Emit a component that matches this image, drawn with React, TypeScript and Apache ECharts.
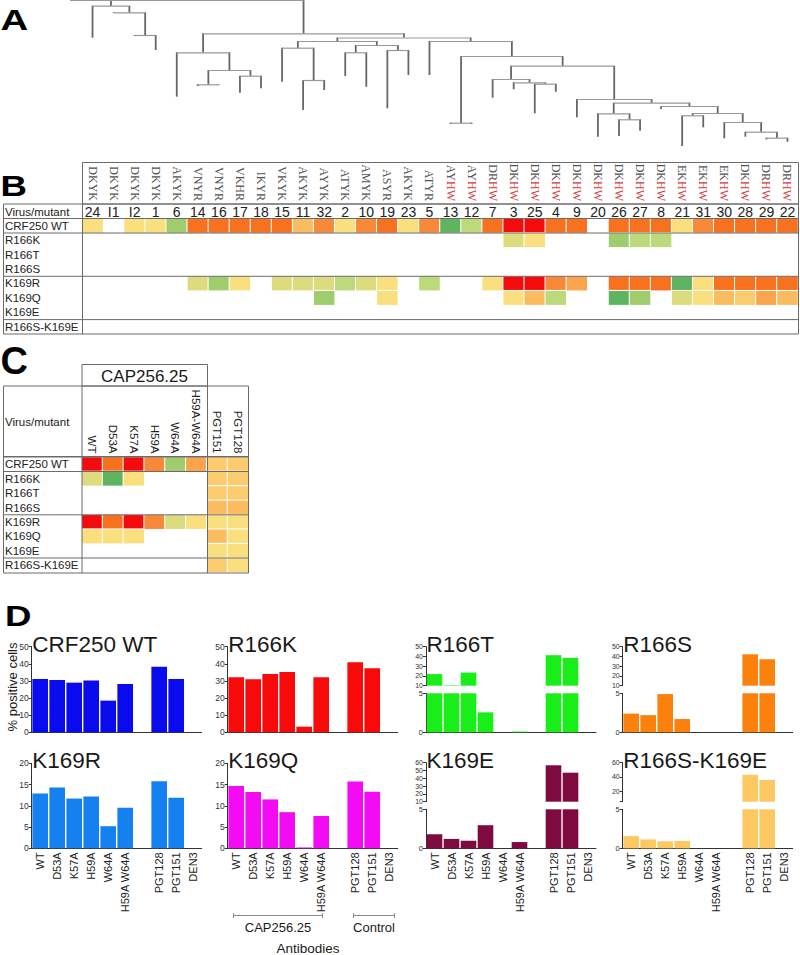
import React, { useEffect, useRef } from 'react';
import * as echarts from 'echarts';

// ---------------- DATA ----------------
const VIRUS_IDS = ['24','I1','I2','1','6','14','16','17','18','15','11','32','2','10','19','23','5','13','12','7','3','25','4','9','20','26','27','8','21','31','30','28','29','22'];
const SEQUENCES = ['DKYK','DKYK','DKYK','DKYK','AKYK','VNYR','VNYR','VKHR','IKYR','VKYK','AKYK','AYYK','ATYK','AMYK','ASYR','AKYK','ATYR','AYHW','AYHW','DRHW','DKHW','DKHW','DKHW','DKHW','DKHW','DKHW','DKHW','DKHW','EKHW','EKHW','EKHW','DKHW','DRHW','DRHW'];
const MUTANTS = ['CRF250 WT','R166K','R166T','R166S','K169R','K169Q','K169E','R166S-K169E'];

// neutralisation level (0 = none, 1 = weakest ... 11 = strongest)
const LEVEL_COLORS = ['#5fb462','#9fcd6e','#bcd97c','#dcdc7e','#f9df7d','#fccb6d','#fbbc5f','#faa44e','#f9893a','#f8711f','#f40c0c'];

const B_CRF250_WT = [5,0,5,5,2,10,10,10,10,10,7,9,5,9,10,5,9,1,3,10,11,11,10,10,0,10,10,10,5,9,10,10,10,10];
const B_R166K     = [0,0,0,0,0,0,0,0,0,0,0,0,0,0,0,0,0,0,0,0,4,5,0,0,0,2,3,3,0,0,0,0,0,0];
const B_R166T     = [0,0,0,0,0,0,0,0,0,0,0,0,0,0,0,0,0,0,0,0,0,0,0,0,0,0,0,0,0,0,0,0,0,0];
const B_R166S     = [0,0,0,0,0,0,0,0,0,0,0,0,0,0,0,0,0,0,0,0,0,0,0,0,0,0,0,0,0,0,0,0,0,0];
const B_K169R     = [0,0,0,0,0,4,2,5,0,4,4,4,3,4,5,0,3,0,0,5,11,11,9,8,0,10,10,10,1,5,10,10,10,10];
const B_K169Q     = [0,0,0,0,0,0,0,0,0,0,0,2,0,0,5,0,0,0,0,0,5,7,3,0,0,1,2,0,4,5,7,6,8,7];
const B_K169E     = [0,0,0,0,0,0,0,0,0,0,0,0,0,0,0,0,0,0,0,0,0,0,0,0,0,0,0,0,0,0,0,0,0,0];
const B_R166S_K169E = [0,0,0,0,0,0,0,0,0,0,0,0,0,0,0,0,0,0,0,0,0,0,0,0,0,0,0,0,0,0,0,0,0,0];
const B_ROWS = [B_CRF250_WT, B_R166K, B_R166T, B_R166S, B_K169R, B_K169Q, B_K169E, B_R166S_K169E];

const C_COLUMNS = ['WT','D53A','K57A','H59A','W64A','H59A-W64A','PGT151','PGT128'];
const C_CRF250_WT = [11,10,11,9,2,8,6,6];
const C_R166K     = [4,1,5,0,0,0,6,6];
const C_R166T     = [0,0,0,0,0,0,6,6];
const C_R166S     = [0,0,0,0,0,0,7,7];
const C_K169R     = [11,10,11,9,4,5,5,5];
const C_K169Q     = [5,5,5,0,0,0,7,5];
const C_K169E     = [0,0,0,0,0,0,5,5];
const C_R166S_K169E = [0,0,0,0,0,0,6,5];
const C_ROWS = [C_CRF250_WT, C_R166K, C_R166T, C_R166S, C_K169R, C_K169Q, C_K169E, C_R166S_K169E];

const ANTIBODIES = ['WT','D53A','K57A','H59A','W64A','H59A W64A','','PGT128','PGT151','DEN3'];
const D_CRF250_WT = [31.1, 30.5, 29.0, 30.2, 18.5, 28.2, null, 38.3, 31.1, 0];
const D_R166K     = [32.1, 31.0, 34.0, 35.2, 3.3, 32.1, null, 40.9, 37.4, 0];
const D_R166T     = [21.9, 10.5, 23.5, 2.56, 0, 0.1, null, 41.3, 38.5, 0];
const D_R166S     = [2.4, 2.2, 4.9, 1.7, 0, 0, null, 42.2, 37.1, 0];
const D_K169R     = [12.9, 14.3, 11.7, 12.2, 5.2, 9.55, null, 15.8, 11.9, 0];
const D_K169Q     = [14.65, 13.25, 11.5, 8.5, 0.2, 7.6, null, 15.7, 13.3, 0];
const D_K169E     = [1.8, 1.2, 0.97, 2.96, 0, 0.8, null, 56.7, 47.2, 0];
const D_R166S_K169E = [1.56, 1.14, 0.9, 0.93, 0, 0, null, 43.0, 35.6, 0];

// phylogenetic tree: node depth h, leaves named by virus id
type TNode = { id?: string; h: number; c?: TNode[]; x?: number };
const L = (id: string, h: number): TNode => ({ id, h });
const N = (h: number, ...c: TNode[]): TNode => ({ h, c });
const OUTGROUP_POS = -1.07;
const CLADE_A = N(5.7, L('24', 37.7), N(12.3, L('I1', 13), N(35, L('I2', 36), L('1', 50))));
const CLADE_E = N(52.3, L('6', 96.7), N(70, N(84.3, L('14', 86), L('16', 85)), N(75.7, L('17', 92.7), L('18', 88.3))));
const CLADE_J = N(41,
  N(47.7, L('15', 81.7), N(80, L('11', 110), L('32', 90))),
  N(45, N(52.3, L('2', 76), L('10', 86.7)), N(50, L('19', 108.3), L('23', 75))));
const CLADE_AB = N(113,
  N(115.3, L('21', 146), L('31', 127.3)),
  N(122, L('30', 138.3), N(131.7, L('28', 136.7), N(137.7, L('29', 139.5), L('22', 141.7)))));
const CLADE_X = N(102.7,
  N(113.3, L('20', 136.7), N(119.3, L('26', 136), L('27', 130.7))),
  N(106, L('8', 109), CLADE_AB));
const CLADE_S = N(65.7,
  N(79, L('7', 97.7), N(82.3, L('3', 89.3), N(83.7, L('25', 113.3), L('4', 91.7)))),
  N(99, L('9', 117.3), CLADE_X));
const CLADE_P = N(41, L('5', 75), N(56, N(122.7, L('13', 124), L('12', 124)), CLADE_S));
const TREE: TNode = N(0, { h: 0, x: OUTGROUP_POS }, CLADE_A, N(33.3, CLADE_E, N(37.5, CLADE_J, CLADE_P)));

// ---------------- LAYOUT ----------------
const FONT = '"Liberation Sans", Arial, Helvetica, sans-serif';
const SEQ_FONT = '"Liberation Serif", "Times New Roman", serif';
const COL_W = 716 / 34;
const TREE_X_MIN = -82 / COL_W - 0.5;
const TREE_X_MAX = TREE_X_MIN + 800 / COL_W;

function treeSegments(node: TNode, parentH: number | null, out: number[][]): number {
  let x: number;
  if (node.c) {
    const xs = node.c.map((ch) => treeSegments(ch, node.h, out));
    const lo = Math.min(...xs), hi = Math.max(...xs);
    out.push([lo, node.h, hi, node.h, 0]);
    x = (lo + hi) / 2;
  } else {
    x = node.x !== undefined ? node.x : VIRUS_IDS.indexOf(node.id as string);
  }
  if (parentH !== null && node.h > parentH) out.push([x, parentH, x, node.h, 1]);
  return x;
}

function buildOption() {
  const grid: any[] = [], xAxis: any[] = [], yAxis: any[] = [], series: any[] = [], g: any[] = [];
  const LINE = '#6b6b6b';
  const line = (x1: number, y1: number, x2: number, y2: number, w = 1, stroke = LINE) =>
    g.push({ type: 'line', z: 50, silent: true, shape: { x1, y1, x2, y2 }, style: { stroke, lineWidth: w } });
  const text = (t: string, x: number, y: number, size: number, opts: any = {}) =>
    g.push({ type: 'text', z: 50, silent: true, x, y, rotation: opts.rotation || 0, scaleX: opts.scaleX || 1,
      style: { text: t, fill: opts.fill || '#1a1a1a', fontSize: size, fontFamily: FONT, fontWeight: opts.bold ? 'bold' : 'normal',
        align: opts.align || 'left', verticalAlign: 'middle' } });

  // ---- A: tree ----
  const segs: number[][] = [];
  treeSegments(TREE, null, segs);
  grid.push({ left: 0, top: 0, width: 800, height: 146, outerBoundsMode: 'none' });
  xAxis.push({ gridIndex: 0, type: 'value', min: TREE_X_MIN, max: TREE_X_MAX, show: false });
  yAxis.push({ gridIndex: 0, type: 'value', min: 0, max: 146, inverse: true, show: false });
  series.push({
    type: 'custom', xAxisIndex: 0, yAxisIndex: 0, data: segs, encode: { x: [0, 2], y: [1, 3] }, silent: true,
    renderItem: (_p: any, api: any) => {
      const a = api.coord([api.value(0), api.value(1)]);
      const b = api.coord([api.value(2), api.value(3)]);
      const vert = api.value(4) === 1;
      return { type: 'line', shape: { x1: a[0], y1: a[1] + (vert ? 0 : 0.5), x2: b[0], y2: b[1] + (vert ? 0 : 0.5) },
        style: { stroke: vert ? '#666' : '#999', lineWidth: vert ? 1.8 : 1.2 } };
    },
  });

  // ---- B: heat map ----
  grid.push({ left: 82, top: 218.5, width: 716, height: 115.5, outerBoundsMode: 'none' });
  xAxis.push({ gridIndex: 1, type: 'category', data: VIRUS_IDS, position: 'top', axisLine: { show: false }, axisTick: { show: false },
    axisLabel: { interval: 0, fontSize: 14, color: '#222', margin: 0, fontFamily: FONT } });
  xAxis.push({ gridIndex: 1, type: 'category', data: SEQUENCES.map((_, i) => String(i)), position: 'top', offset: 17.5,
    axisLine: { show: false }, axisTick: { show: false },
    axisLabel: { interval: 0, rotate: 90, margin: 0,
      formatter: (v: string) => { const s = SEQUENCES[+v]; return s.endsWith('HW') ? `{g|${s.slice(0, 2)}}{r|HW}` : `{g|${s}}`; },
      rich: { g: { fontSize: 12, fontFamily: SEQ_FONT, color: '#555' },
              r: { fontSize: 12, fontFamily: SEQ_FONT, color: '#d43c3c' } } } });
  yAxis.push({ gridIndex: 1, type: 'category', data: MUTANTS, inverse: true, axisLine: { show: false }, axisTick: { show: false },
    axisLabel: { interval: 0, align: 'left', margin: 77, fontSize: 11.5, color: '#222', fontFamily: FONT } });
  const bData: number[][] = [];
  B_ROWS.forEach((row, r) => row.forEach((v, c) => { if (v > 0) bData.push([c, r, v]); }));
  series.push({ type: 'heatmap', xAxisIndex: 1, yAxisIndex: 1, data: bData, silent: true,
    itemStyle: { borderColor: '#fff', borderWidth: 1 } });

  // ---- C: heat map ----
  grid.push({ left: 81.7, top: 457, width: 166.6, height: 115.5, outerBoundsMode: 'none' });
  xAxis.push({ gridIndex: 2, type: 'category', data: C_COLUMNS, position: 'top', axisLine: { show: false }, axisTick: { show: false },
    axisLabel: { interval: 0, rotate: 90, margin: 3.5, fontSize: 11.5, color: '#222', fontFamily: FONT } });
  yAxis.push({ gridIndex: 2, type: 'category', data: MUTANTS, inverse: true, axisLine: { show: false }, axisTick: { show: false },
    axisLabel: { interval: 0, align: 'left', margin: 76.7, fontSize: 11.5, color: '#222', fontFamily: FONT } });
  const cData: number[][] = [];
  C_ROWS.forEach((row, r) => row.forEach((v, c) => { if (v > 0) cData.push([c, r, v]); }));
  series.push({ type: 'heatmap', xAxisIndex: 3, yAxisIndex: 2, data: cData, silent: true,
    itemStyle: { borderColor: '#fff', borderWidth: 1 } });

  // ---- D: bar charts ----
  const COLS_X = [31.7, 227.7, 426, 622.7];
  const ROWS_Y = [[646.7, 732.3], [763.3, 848.3]];
  const SEG_H = 39;
  const panels: any[] = [
    { title: 'CRF250 WT', data: D_CRF250_WT, color: '#0a0aef', r: 0, c: 0, max: 50, interval: 10 },
    { title: 'R166K', data: D_R166K, color: '#f80a0a', r: 0, c: 1, max: 50, interval: 10 },
    { title: 'R166T', data: D_R166T, color: '#1aee1a', r: 0, c: 2, upper: { min: 10, max: 50, interval: 10 } },
    { title: 'R166S', data: D_R166S, color: '#fb800c', r: 0, c: 3, upper: { min: 10, max: 50, interval: 10 } },
    { title: 'K169R', data: D_K169R, color: '#1580f0', r: 1, c: 0, max: 20, interval: 5 },
    { title: 'K169Q', data: D_K169Q, color: '#f30cf3', r: 1, c: 1, max: 20, interval: 5 },
    { title: 'K169E', data: D_K169E, color: '#7f0a3f', r: 1, c: 2, upper: { min: 10, max: 60, interval: 10 } },
    { title: 'R166S-K169E', data: D_R166S_K169E, color: '#fdc862', r: 1, c: 3, upper: { min: 5, max: 60, labels: [20, 40, 60], ticks: [5, 20, 40, 60] } },
  ];
  const AX = '#333';
  const xAxisFor = (gi: number, show: boolean, labels: boolean) => ({
    gridIndex: gi, type: 'category', data: ANTIBODIES, show, boundaryGap: true,
    axisLine: { lineStyle: { color: AX, width: 1 } },
    axisTick: { alignWithLabel: true, length: 3, lineStyle: { color: AX } },
    axisLabel: { show: labels, interval: 0, rotate: 90, margin: 4, fontSize: 11, color: '#222', fontFamily: FONT },
  });
  const yAxisFor = (gi: number, min: number, max: number, interval: number | undefined, fs: number, custom?: any) => ({
    gridIndex: gi, type: 'value', min, max, interval,
    axisLine: { show: true, lineStyle: { color: AX, width: 1 } },
    axisTick: { show: true, length: 3, lineStyle: { color: AX }, ...(custom ? { customValues: custom.ticks } : {}) },
    axisLabel: { fontSize: fs, margin: 3, color: '#333', fontFamily: FONT, ...(custom ? { customValues: custom.labels } : {}) },
    splitLine: { show: false },
  });
  panels.forEach((p) => {
    const left = COLS_X[p.c];
    const [top, bottom] = ROWS_Y[p.r];
    const labels = p.r === 1;
    if (!p.upper) {
      const gi = grid.length;
      grid.push({ left, top, width: 170, height: bottom - top, outerBoundsMode: 'none' });
      xAxis.push(xAxisFor(gi, true, labels));
      yAxis.push(yAxisFor(gi, 0, p.max, p.interval, 8.5));
      series.push({ type: 'bar', xAxisIndex: xAxis.length - 1, yAxisIndex: yAxis.length - 1, data: p.data,
        barCategoryGap: '8%', itemStyle: { color: p.color }, silent: true });
    } else {
      const gu = grid.length;
      const upTop = p.r === 1 ? 762.7 : 646.7;
      grid.push({ left, top: upTop, width: 170, height: SEG_H, outerBoundsMode: 'none' });
      xAxis.push(xAxisFor(gu, false, false));
      yAxis.push(yAxisFor(gu, p.upper.min, p.upper.max, p.upper.interval, 7, p.upper.labels ? p.upper : undefined));
      series.push({ type: 'bar', xAxisIndex: xAxis.length - 1, yAxisIndex: yAxis.length - 1, data: p.data,
        barCategoryGap: '8%', itemStyle: { color: p.color }, silent: true, clip: true });
      const gl = grid.length;
      grid.push({ left, top: bottom - SEG_H, width: 170, height: SEG_H, outerBoundsMode: 'none' });
      xAxis.push(xAxisFor(gl, true, labels));
      yAxis.push(yAxisFor(gl, 0, 5, 5, 7.5));
      series.push({ type: 'bar', xAxisIndex: xAxis.length - 1, yAxisIndex: yAxis.length - 1, data: p.data,
        barCategoryGap: '8%', itemStyle: { color: p.color }, silent: true, clip: true });
    }
    text(p.title, left + 0.5, p.r === 0 ? 644.9 : 760.5, 22.5);
  });
  text('% positive cells', 12, 687, 13, { rotation: Math.PI / 2, align: 'center' });

  // brackets under K169Q
  line(233, 915.5, 323, 915.5, 1, '#8a8a8a'); line(233.5, 913, 233.5, 918, 1, '#8a8a8a'); line(322.5, 913, 322.5, 918, 1, '#8a8a8a');
  line(353, 915.5, 395, 915.5, 1, '#8a8a8a'); line(353.5, 913, 353.5, 918, 1, '#8a8a8a'); line(394.5, 913, 394.5, 918, 1, '#8a8a8a');
  text('CAP256.25', 278, 927.5, 13, { align: 'center' });
  text('Control', 374, 927.5, 13, { align: 'center' });
  text('Antibodies', 308, 948.5, 13.5, { align: 'center' });

  // ---- table frames ----
  // B
  g.push({ type: 'rect', z: 50, silent: true, shape: { x: 82.5, y: 162.5, width: 716, height: 41.5 }, style: { fill: 'none', stroke: LINE, lineWidth: 1 } });
  g.push({ type: 'rect', z: 50, silent: true, shape: { x: 3.5, y: 204, width: 795, height: 130 }, style: { fill: 'none', stroke: LINE, lineWidth: 1 } });
  line(3.5, 218.5, 798.5, 218.5); line(3.5, 233, 798.5, 233); line(3.5, 276.3, 798.5, 276.3); line(3.5, 319.6, 798.5, 319.6);
  line(82.5, 204, 82.5, 334);
  text('Virus/mutant', 5, 211.5, 11.5);
  // C
  g.push({ type: 'rect', z: 50, silent: true, shape: { x: 82, y: 364.5, width: 125.5, height: 21.5 }, style: { fill: 'none', stroke: LINE, lineWidth: 1 } });
  g.push({ type: 'rect', z: 50, silent: true, shape: { x: 3.5, y: 386, width: 245, height: 187 }, style: { fill: 'none', stroke: LINE, lineWidth: 1 } });
  line(82, 386, 82, 573); line(207.5, 386, 207.5, 573);
  line(3.5, 456.8, 248.5, 456.8, 1.5); line(3.5, 471.5, 248.5, 471.5); line(3.5, 514.8, 248.5, 514.8); line(3.5, 558, 248.5, 558);
  text('CAP256.25', 144.5, 376.5, 17, { align: 'center' });
  text('Virus/mutant', 5, 421.7, 11.5);

  // panel letters
  text('A', 0.5, 19.2, 30, { bold: true, scaleX: 1.28, fill: '#000' });
  text('B', 0.5, 185.8, 30, { bold: true, scaleX: 1.22, fill: '#000' });
  text('C', 0.5, 360.8, 38, { bold: true, scaleX: 1.0, fill: '#000' });
  text('D', 5, 615.8, 30, { bold: true, scaleX: 1.22, fill: '#000' });

  return {
    animation: false,
    backgroundColor: '#fff',
    textStyle: { fontFamily: FONT },
    grid, xAxis, yAxis, series,
    visualMap: { type: 'piecewise', show: false, dimension: 2, seriesIndex: [1, 2],
      pieces: LEVEL_COLORS.map((color, i) => ({ value: i + 1, color })) },
    graphic: { elements: g },
  };
}

export default function App() {
  const ref = useRef<HTMLDivElement>(null);
  useEffect(() => {
    const chart = echarts.init(ref.current as HTMLDivElement, null, { renderer: 'svg' });
    chart.setOption(buildOption() as any);
    return () => chart.dispose();
  }, []);
  return <div ref={ref} style={{ position: 'absolute', left: 0, top: 0, width: 800, height: 955, background: '#fff' }} />;
}
